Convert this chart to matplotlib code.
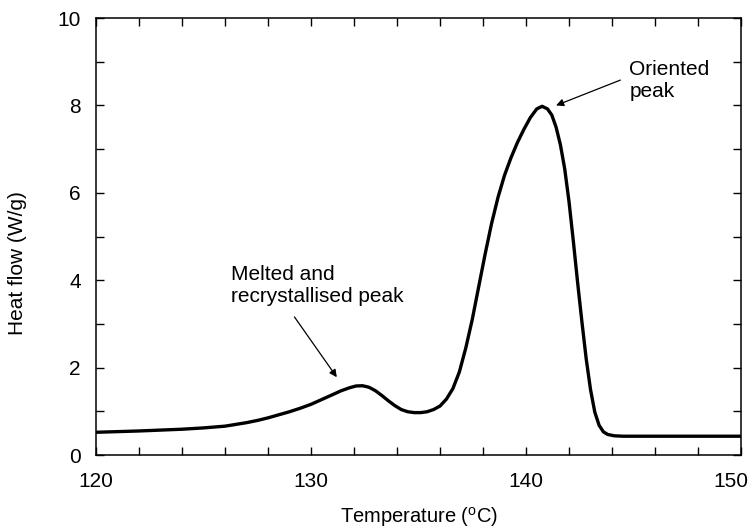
import matplotlib
matplotlib.use("Agg")
import matplotlib.pyplot as plt
from matplotlib.ticker import MultipleLocator
from matplotlib.transforms import ScaledTranslation

plt.rcParams['font.family'] = ['Liberation Sans', 'DejaVu Sans']
plt.rcParams['mathtext.fontset'] = 'custom'
plt.rcParams['mathtext.rm'] = 'Liberation Sans'

temperature = [120, 121, 122, 123, 124, 125, 126, 127, 127.5, 128, 128.5, 129, 129.5, 130,
               130.5, 131, 131.4, 131.8, 132.1, 132.4, 132.7, 133, 133.3, 133.6, 133.9,
               134.2, 134.5, 134.8, 135.1, 135.4, 135.7, 136, 136.3, 136.6, 136.9, 137.2,
               137.5, 137.8, 138.1, 138.4, 138.7, 139, 139.3, 139.6, 139.9, 140.2, 140.5,
               140.75, 141, 141.2, 141.4, 141.6, 141.8, 142, 142.2, 142.4, 142.6, 142.8,
               143, 143.2, 143.4, 143.6, 143.8, 144.1, 144.5, 146, 148, 150]
heat_flow = [0.52, 0.535, 0.55, 0.57, 0.59, 0.62, 0.66, 0.74, 0.79, 0.85, 0.92, 0.99, 1.07, 1.16,
             1.27, 1.38, 1.47, 1.54, 1.58, 1.585, 1.55, 1.47, 1.36, 1.24, 1.13,
             1.04, 0.99, 0.97, 0.97, 0.99, 1.04, 1.12, 1.28, 1.52, 1.9, 2.45,
             3.1, 3.85, 4.6, 5.3, 5.9, 6.4, 6.8, 7.15, 7.45, 7.72, 7.92,
             7.98, 7.92, 7.78, 7.5, 7.1, 6.55, 5.8, 4.9, 3.95, 3.05, 2.2,
             1.5, 0.98, 0.68, 0.53, 0.47, 0.44, 0.43, 0.43, 0.43, 0.43]

x_ticks = [120, 130, 140, 150]
y_ticks = [0, 2, 4, 6, 8, 10]

fig = plt.figure(figsize=(7.51, 5.30), dpi=100)
ax = fig.add_axes([0.1278, 0.1415, 0.8589, 0.8245])

ax.plot(temperature, heat_flow, color='black', lw=2.4, solid_capstyle='round',
        solid_joinstyle='round')

ax.set_xlim(120, 150)
ax.set_ylim(0, 10)
ax.set_xticks(x_ticks)
ax.set_yticks(y_ticks)
ax.xaxis.set_minor_locator(MultipleLocator(2))
ax.yaxis.set_minor_locator(MultipleLocator(1))
ax.tick_params(which='both', direction='in', top=True, right=True, length=6, width=1.0,
               labelsize=15, colors='black')
ax.tick_params(axis='x', pad=12)
ax.tick_params(axis='y', pad=11)
for s in ax.spines.values():
    s.set_linewidth(1.1)

ax.set_xlabel(r'Temperature ($^{\rm o}$C)', fontsize=14.5)
ax.set_ylabel('Heat flow (W/g)', fontsize=15)
ax.xaxis.set_label_coords(0.5, -0.142)
ax.xaxis.label.set_va('center')
ax.yaxis.set_label_coords(-0.121, 0.44)
ax.yaxis.label.set_va('center')

arrow = dict(arrowstyle='-|>', lw=0.9, color='black', mutation_scale=11, shrinkA=0, shrinkB=0)
ax.annotate('', xy=(131.2, 1.78), xytext=(129.23, 3.16), arrowprops=arrow)
ax.text(126.26, 3.88, 'Melted and\nrecrystallised peak', fontsize=15, ha='left', va='center',
        linespacing=1.2)
ax.annotate('', xy=(141.4, 8.0), xytext=(144.39, 8.58), arrowprops=arrow)
ax.text(144.81, 8.58, 'Oriented\npeak', fontsize=15, ha='left', va='center', linespacing=1.2)

# keep the last x tick label inside the figure, as in the reference
fig.canvas.draw()
for tick in ax.xaxis.get_major_ticks():
    if tick.label1.get_text() == str(x_ticks[-1]):
        tick.label1.set_horizontalalignment('right')
        tick.label1.set_transform(tick.label1.get_transform() +
                                  ScaledTranslation(7 / 100, 0, fig.dpi_scale_trans))

fig.savefig('out.png', dpi=100)
